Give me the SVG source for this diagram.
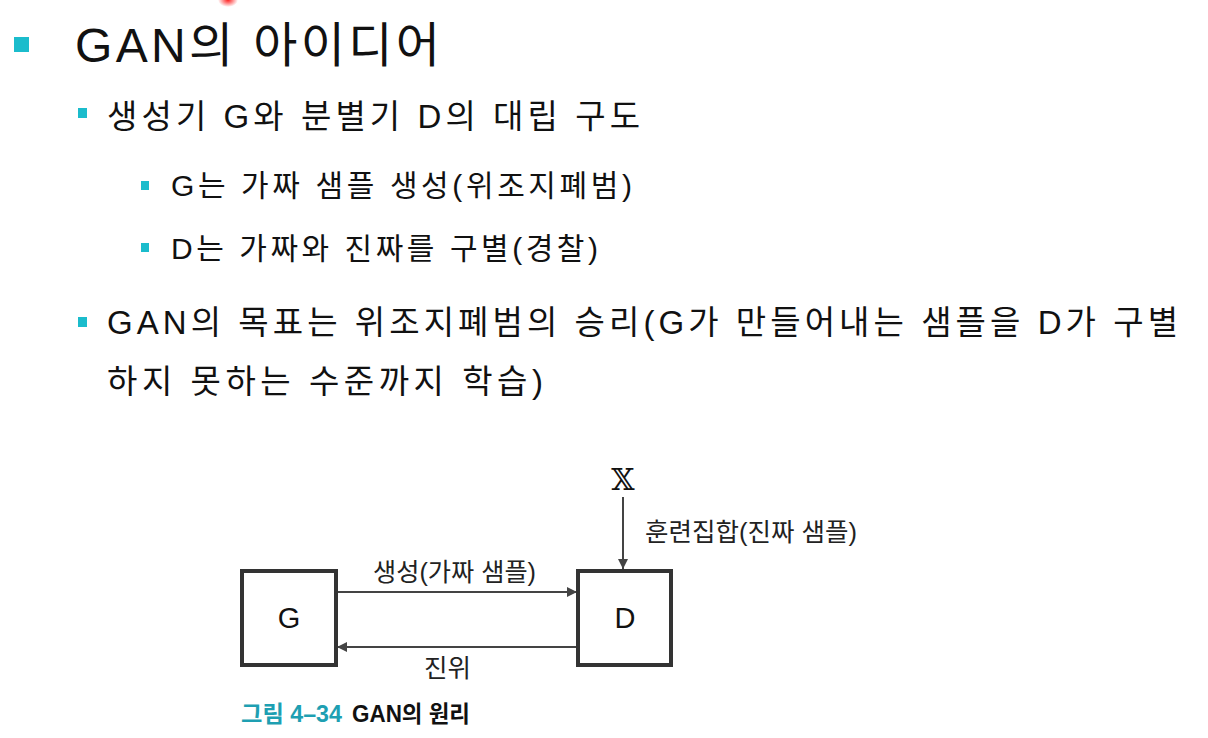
<svg xmlns="http://www.w3.org/2000/svg" width="1208" height="738" viewBox="0 0 1208 738">
<defs>
<style>
.t{font-family:"Liberation Sans","Noto Sans CJK KR",sans-serif;fill:#111;}
.b{fill:#1bbccc;}
.box{fill:#fff;stroke:#333;stroke-width:4;}
.ln{stroke:#444;stroke-width:2;fill:none;}
.lbl{font-family:"Liberation Sans","Noto Sans CJK KR",sans-serif;fill:#222;font-size:25px;}
.cap{font-family:"Liberation Sans","Noto Sans CJK KR",sans-serif;font-size:23px;font-weight:bold;}
</style>
<marker id="ah" viewBox="0 0 10 10" refX="10" refY="5" markerWidth="10" markerHeight="10" markerUnits="userSpaceOnUse" orient="auto">
<path d="M0,0 L10,5 L0,10 Z" fill="#444"/>
</marker>
<radialGradient id="red">
<stop offset="0" stop-color="#ff2020"/>
<stop offset="1" stop-color="#ff2020" stop-opacity="0"/>
</radialGradient>
</defs>
<rect width="1208" height="738" fill="#fff"/>
<ellipse cx="228" cy="0" rx="10" ry="7" fill="url(#red)"/>
<g id="text">
<rect class="b" x="14" y="37" width="15" height="15"/>
<text class="t" x="75" y="62" font-size="48" textLength="365" lengthAdjust="spacing">GAN의 아이디어</text>
<rect class="b" x="78" y="108" width="9" height="10"/>
<text class="t" x="107" y="128" font-size="33" textLength="533" lengthAdjust="spacing">생성기 G와 분별기 D의 대립 구도</text>
<rect class="b" x="141" y="181" width="8" height="9"/>
<text class="t" x="171" y="196" font-size="30" textLength="461" lengthAdjust="spacing">G는 가짜 샘플 생성(위조지폐범)</text>
<rect class="b" x="141" y="243" width="8" height="9"/>
<text class="t" x="171" y="259" font-size="30" textLength="427" lengthAdjust="spacing">D는 가짜와 진짜를 구별(경찰)</text>
<rect class="b" x="78" y="317" width="9" height="10"/>
<text class="t" x="107" y="334" font-size="33" textLength="1071" lengthAdjust="spacing">GAN의 목표는 위조지폐범의 승리(G가 만들어내는 샘플을 D가 구별</text>
<text class="t" x="107" y="393" font-size="33" textLength="436" lengthAdjust="spacing">하지 못하는 수준까지 학습)</text>
</g>
<g id="connectors">
<line class="ln" x1="337" y1="592" x2="577" y2="592" marker-end="url(#ah)"/>
<line class="ln" x1="577" y1="647" x2="337" y2="647" marker-end="url(#ah)"/>
<line class="ln" x1="623" y1="497" x2="623" y2="569" marker-end="url(#ah)"/>
<text class="lbl" x="373" y="581" textLength="163" lengthAdjust="spacingAndGlyphs">생성(가짜 샘플)</text>
<text class="lbl" x="424" y="677" font-size="26" textLength="47" lengthAdjust="spacingAndGlyphs">진위</text>
<text class="lbl" x="645" y="541" textLength="212" lengthAdjust="spacingAndGlyphs">훈련집합(진짜 샘플)</text>
</g>
<g id="node-G">
<rect class="box" x="242" y="571" width="94" height="94"/>
<text class="t" x="289" y="628" font-size="29" text-anchor="middle">G</text>
</g>
<g id="node-D">
<rect class="box" x="578" y="571" width="93" height="94"/>
<text class="t" x="625" y="628" font-size="29" text-anchor="middle">D</text>
</g>
<g id="node-X">
<text x="623" y="490" font-family="DejaVu Serif, serif" font-size="30" text-anchor="middle" fill="#111">𝕏</text>
</g>
<g id="caption">
<text class="cap" x="241" y="722" fill="#1e9fb2" textLength="101" lengthAdjust="spacingAndGlyphs">그림 4–34</text>
<text class="cap" x="352" y="722" fill="#111" textLength="118" lengthAdjust="spacingAndGlyphs">GAN의 원리</text>
</g>
</svg>
